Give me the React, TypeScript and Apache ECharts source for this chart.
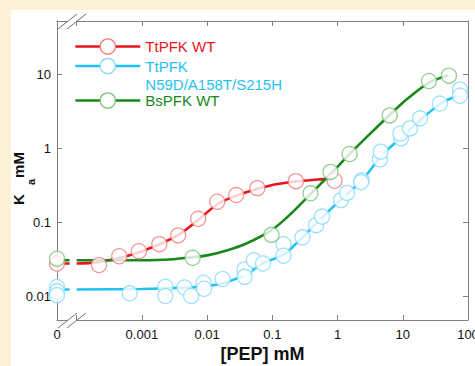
import React, { useEffect, useRef } from 'react';
import * as echarts from 'echarts';

// "0" of the broken log axis is drawn at this position
const AXIS_ZERO = 5e-5;
const BREAK_START = 7.8e-5;
const X_MAX = 100;
const Y_MIN = 0.00485;
const Y_MAX = 51.8;

const xTickLabels = ['0', '0.001', '0.01', '0.1', '1', '10', '100'];
const yTickLabels = ['0.01', '0.1', '1', '10'];

const seriesNames = ['TtPFK WT', 'TtPFK N59D/A158T/S215H', 'BsPFK WT'];

// TtPFK WT
const redX = [0, 0.00022, 0.00045, 0.0009, 0.00185, 0.0036, 0.0073, 0.0143, 0.028, 0.059, 0.23, 0.9];
const redY = [0.028, 0.0267, 0.035, 0.041, 0.051, 0.067, 0.112, 0.19, 0.234, 0.29, 0.36, 0.365];
const redFitX = [0, 1e-4, 2e-4, 5e-4, 1e-3, 2e-3, 4e-3, 7e-3, 0.015, 0.03, 0.06, 0.12, 0.25, 0.5, 0.85];
const redFitY = [0.028, 0.028, 0.029, 0.034, 0.041, 0.052, 0.072, 0.105, 0.18, 0.235, 0.285, 0.33, 0.36, 0.38, 0.39];

// TtPFK N59D/A158T/S215H
const blueX = [0, 0, 0, 0.00065, 0.00229, 0.00229, 0.0045, 0.0057, 0.0088, 0.009, 0.0173, 0.0376, 0.0376, 0.052, 0.072, 0.148, 0.148, 0.29, 0.47, 0.58, 1.13, 1.4, 2.35, 2.3, 4.47, 4.6, 9.4, 9.2, 12.9, 18.4, 37, 75.5, 75.5];
const blueY = [0.0135, 0.0118, 0.0105, 0.0111, 0.0136, 0.0102, 0.0133, 0.0102, 0.0154, 0.0128, 0.0173, 0.0233, 0.0185, 0.031, 0.028, 0.051, 0.0356, 0.063, 0.092, 0.12, 0.2, 0.25, 0.37, 0.35, 0.71, 0.9, 1.36, 1.58, 1.85, 2.53, 4.0, 6.2, 5.1];
const blueFitX = [0, 1e-4, 1e-3, 5e-3, 0.01, 0.02, 0.04, 0.07, 0.15, 0.3, 0.6, 1.1, 2.3, 4.5, 6.2, 10, 18, 40, 75];
const blueFitY = [0.0125, 0.0125, 0.0127, 0.0133, 0.0138, 0.0158, 0.02, 0.028, 0.037, 0.065, 0.12, 0.2, 0.36, 0.75, 1.0, 1.45, 2.35, 4.1, 5.2];

// BsPFK WT
const greenX = [0, 0.006, 0.097, 0.385, 0.78, 1.53, 6.3, 25.2, 51];
const greenY = [0.0325, 0.0334, 0.068, 0.247, 0.48, 0.835, 2.77, 8.05, 9.5];
const greenFitX = [0, 1e-4, 1e-3, 3e-3, 6e-3, 0.01, 0.02, 0.04, 0.1, 0.2, 0.4, 0.8, 1.5, 3, 6, 12, 25, 50];
const greenFitY = [0.031, 0.031, 0.031, 0.032, 0.034, 0.036, 0.042, 0.052, 0.08, 0.135, 0.25, 0.46, 0.82, 1.5, 2.7, 4.7, 7.6, 9.6];

const lineColors = ['#e8161c', '#1fc2f2', '#17881a'];
const markerColors = ['#f27c7c', '#86d9f7', '#7dc07d'];

const FONT = 'Arial, "Liberation Sans", sans-serif';

function toPoints(xs: number[], ys: number[]) {
  return xs.map((x, i) => [x === 0 ? AXIS_ZERO : x, ys[i]]);
}

function fitPoints(xs: number[], ys: number[]) {
  const pts: any[] = [];
  xs.forEach((x, i) => {
    if (x === 0) {
      pts.push([AXIS_ZERO, ys[i]]);
      pts.push([BREAK_START, ys[i]]);
      pts.push([8.8e-5, '-']);
    } else {
      pts.push([x, ys[i]]);
    }
  });
  return pts;
}

function labelFor(v: number, labels: string[]) {
  if (v < 9e-5) return labels[0] === '0' ? '0' : '';
  const hit = labels.find((l) => l !== '0' && Math.abs(Number(l) - v) / v < 1e-6);
  return hit || '';
}

export default function App() {
  const ref = useRef<HTMLDivElement>(null);
  useEffect(() => {
    if (!ref.current) return;
    const chart = echarts.init(ref.current, null, { renderer: 'svg' });
    const axisLine = { show: true, onZero: false, lineStyle: { color: '#808080', width: 1 } };
    const axisTick = { show: true, inside: true, length: 5, lineStyle: { color: '#808080' } };
    const fits = [
      [redFitX, redFitY],
      [blueFitX, blueFitY],
      [greenFitX, greenFitY],
    ];
    const marks = [
      [redX, redY],
      [blueX, blueY],
      [greenX, greenY],
    ];
    const lineSeries = seriesNames.map((name, i) => ({
      name,
      type: 'line',
      data: fitPoints(fits[i][0], fits[i][1]),
      symbol: 'circle',
      showSymbol: false,
      smooth: 0.3,
      connectNulls: false,
      lineStyle: { color: lineColors[i], width: 2.6 },
      itemStyle: { color: lineColors[i] },
      z: 2,
    }));
    const scatterSeries = seriesNames.map((name, i) => ({
      name,
      type: 'scatter',
      data: toPoints(marks[i][0], marks[i][1]),
      symbol: 'circle',
      symbolSize: 15,
      itemStyle: { color: '#ffffff', borderColor: markerColors[i], borderWidth: 1.3 },
      z: 3,
    }));
    const legendTops = [27.5, 29, 81.5];
    const legends = seriesNames.map((name, i) => ({
      data: [
        {
          name,
          itemStyle: { color: '#ffffff', borderColor: markerColors[i], borderWidth: 1.3 },
          lineStyle: { color: lineColors[i], width: 2.6 },
          textStyle: { color: lineColors[i], fontSize: 15, fontFamily: FONT, lineHeight: 18 },
        },
      ],
      formatter: (n: string) => (n === seriesNames[1] ? '\nTtPFK\nN59D/A158T/S215H' : n),
      orient: 'vertical',
      left: 63,
      top: legendTops[i],
      padding: 0,
      itemWidth: 65,
      itemHeight: 19,
      selectedMode: false,
    }));

    // axis break marks (decoration)
    const brk = (yAxis: number) => [
      { type: 'rect', shape: { x: 57, y: yAxis - 2, width: 8, height: 4 }, style: { fill: '#ffffff' }, z: 100 },
      { type: 'line', shape: { x1: 47, y1: yAxis + 8, x2: 66, y2: yAxis - 7 }, style: { stroke: '#707070', lineWidth: 1 }, z: 101 },
      { type: 'line', shape: { x1: 56, y1: yAxis + 8, x2: 75, y2: yAxis - 7 }, style: { stroke: '#707070', lineWidth: 1 }, z: 101 },
    ];

    chart.setOption({
      animation: false,
      backgroundColor: '#ffffff',
      grid: { left: 46, top: 11, right: 7, bottom: 46, containLabel: false, outerBoundsMode: 'none' },
      legend: legends,
      xAxis: [
        {
          type: 'log',
          min: AXIS_ZERO,
          max: X_MAX,
          position: 'bottom',
          axisLine,
          axisTick,
          splitLine: { show: false },
          minorTick: { show: false },
          axisLabel: {
            show: true,
            margin: 8,
            fontSize: 13,
            fontFamily: FONT,
            color: '#111',
            showMinLabel: true,
            showMaxLabel: true,
            hideOverlap: false,
            formatter: (v: number) => labelFor(v, xTickLabels),
          },
          name: '[PEP] mM',
          nameLocation: 'middle',
          nameGap: 25,
          nameMoveOverlap: false,
          nameTextStyle: { fontSize: 18, fontWeight: 'bold', fontFamily: FONT, color: '#111' },
        },
        {
          type: 'log',
          min: AXIS_ZERO,
          max: X_MAX,
          position: 'top',
          axisLine,
          axisTick,
          splitLine: { show: false },
          axisLabel: { show: false },
        },
      ],
      yAxis: [
        {
          type: 'log',
          min: Y_MIN,
          max: Y_MAX,
          position: 'left',
          axisLine,
          axisTick,
          splitLine: { show: false },
          axisLabel: {
            show: true,
            margin: 6,
            fontSize: 13,
            fontFamily: FONT,
            color: '#111',
            formatter: (v: number) => labelFor(v, yTickLabels),
          },
          name: '{k|K}{s|a}{m|mM}',
          nameLocation: 'middle',
          nameRotate: 90,
          nameGap: 21,
          nameMoveOverlap: false,
          nameTextStyle: {
            fontFamily: FONT,
            fontWeight: 'bold',
            fontSize: 15,
            color: '#111',
            padding: [0, 16, 0, 0],
            rich: {
              k: { fontFamily: FONT, fontWeight: 'bold', fontSize: 15, color: '#111', verticalAlign: 'top', height: 17 },
              s: { fontFamily: FONT, fontWeight: 'bold', fontSize: 11, color: '#111', verticalAlign: 'top', padding: [15, 1, 0, 9] },
              m: { fontFamily: FONT, fontWeight: 'bold', fontSize: 15, color: '#111', verticalAlign: 'top', height: 17 },
            },
          },
        },
        {
          type: 'log',
          min: Y_MIN,
          max: Y_MAX,
          position: 'right',
          axisLine,
          axisTick,
          splitLine: { show: false },
          axisLabel: { show: false },
        },
      ],
      graphic: [...brk(310), ...brk(11)],
      series: [...lineSeries, ...scatterSeries],
    });
    return () => chart.dispose();
  }, []);

  return (
    <div style={{ position: 'fixed', left: 0, top: 0, width: 475, height: 366, background: '#fdf2d6', overflow: 'hidden' }}>
      <div ref={ref} style={{ position: 'absolute', left: 11, top: 10, width: 464, height: 356 }} />
    </div>
  );
}
